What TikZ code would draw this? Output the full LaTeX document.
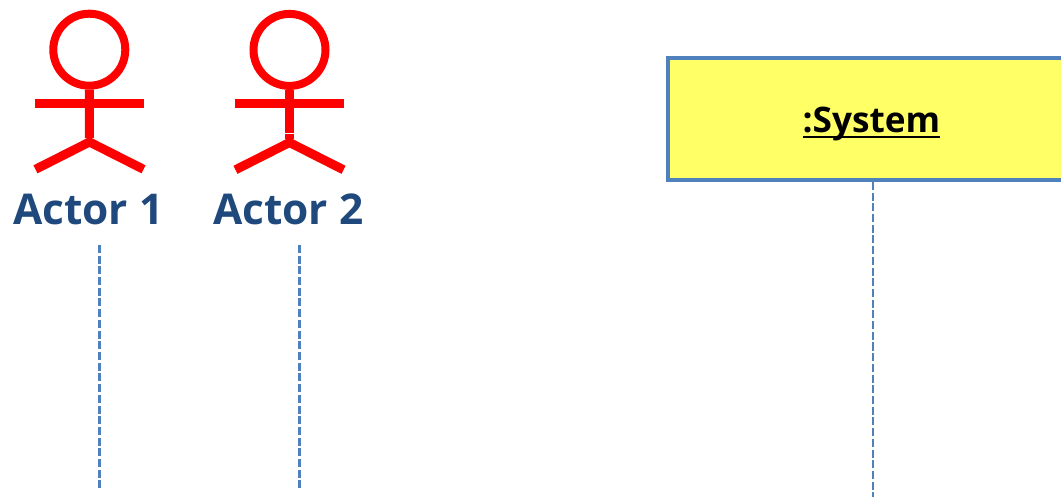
\documentclass[tikz,border=0pt]{standalone}
\usepackage{fontspec}
\setmainfont{Open Sans}
\newfontfamily\labelfont[BoldFont={Open Sans Bold}]{Open Sans}
\definecolor{limbred}{HTML}{FF0000}
\definecolor{labelblue}{HTML}{1F497D}
\definecolor{lineblue}{HTML}{4F81BD}
\definecolor{boxyellow}{HTML}{FFFF66}
\tikzset{
  limb/.style={draw=limbred,line width=9pt},
  headring/.style={circle,draw=limbred,line width=8pt,minimum size=72pt,inner sep=0pt},
  actorlabel/.style={text=labelblue,font=\labelfont\bfseries\fontsize{42.4}{42.4}\selectfont,inner sep=0pt,anchor=base},
  lifeline/.style={draw=lineblue,line width=2.6pt,dash pattern=on 8pt off 2.7pt},
  sysbox/.style={draw=lineblue,line width=4pt,fill=boxyellow,minimum width=410pt,minimum height=122pt,inner sep=0pt},
  systext/.style={font=\labelfont\bfseries\fontsize{35.2}{35.2}\selectfont,inner sep=0pt,anchor=base},
  underbar/.style={draw=black,line width=2pt}
}
\begin{document}
\begin{tikzpicture}[x=1pt,y=-1pt]
\useasboundingbox (0,0) rectangle (1061,497);
\clip (0,0) rectangle (1061,497);
\fill[white] (0,0) rectangle (1061,497);
% Actor 1
\node[headring] (h1) at (89.3,49.7) {};
\coordinate (a1l) at (35,103.5);
\coordinate (a1r) at (144,103.5);
\coordinate (hip1) at (89.5,142);
\coordinate (f1l) at (35.5,169.3);
\coordinate (f1r) at (143.5,169.3);
\draw[limb] (h1.south) -- (hip1 |- 0,138);
\draw[limb] (a1l) -- (a1r);
\draw[limb,line join=miter] (f1l) -- (hip1) -- (f1r);
\node[actorlabel] (n1) at (88.2,225) {Actor 1};
% Actor 2
\node[headring] (h2) at (289.5,49.9) {};
\coordinate (a2l) at (235,103.5);
\coordinate (a2r) at (344,103.5);
\coordinate (hip2) at (289.5,142.5);
\coordinate (f2l) at (235.5,169.8);
\coordinate (f2r) at (343.5,169.8);
\draw[limb] (h2.south) -- (289.5,132.8);
\draw[limb] (289.5,133.8) -- (289.5,139);
\draw[limb] (a2l) -- (a2r);
\draw[limb,line join=miter] (f2l) -- (hip2) -- (f2r);
\node[actorlabel] (n2) at (288.2,225) {Actor 2};
% Lifelines of the actors
\coordinate (l1t) at (99.3,245);
\coordinate (l1b) at (99.3,488);
\coordinate (l2t) at (299.3,245);
\coordinate (l2b) at (299.3,488);
\draw[lifeline] (l1t) -- (l1b);
\draw[lifeline] (l2t) -- (l2b);
% System
\coordinate (s0) at (873,497);
\node[sysbox] (sys) at (873.3,119) {};
\draw[lifeline] (s0 |- sys.south) -- (s0);
\node[systext] (st) at (871.5,133) {:System};
\draw[underbar] (803,137.5) -- (940,137.5);
\end{tikzpicture}
\end{document}
